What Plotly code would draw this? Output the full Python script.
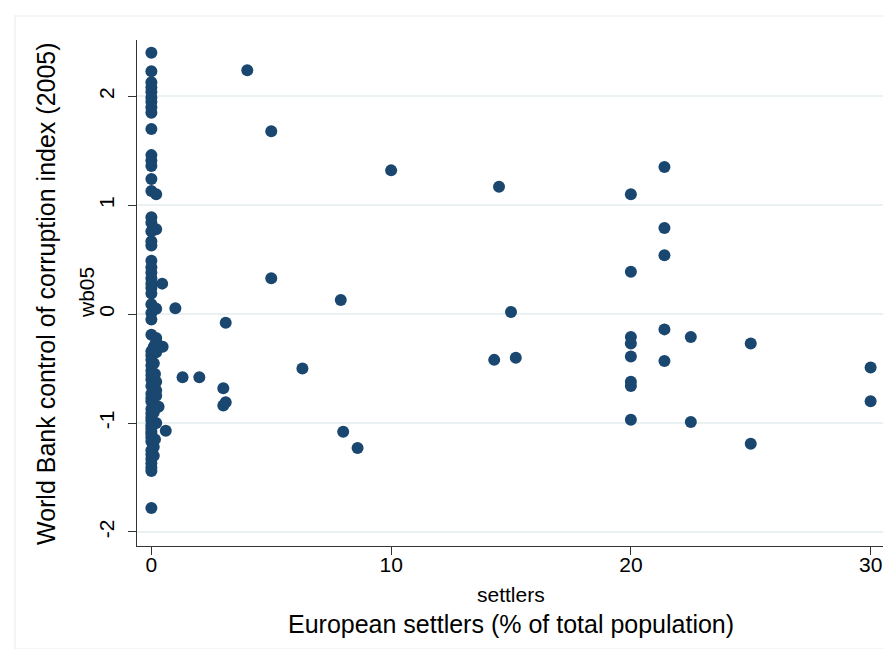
import plotly.graph_objects as go

# European settlers (% of total population) / World Bank control of corruption index (2005)
# -- countries with (almost) no settlers, positive index
settlers_zero_pos = [0, 0, 0, 0, 0, 0, 0, 0, 0, 0,
                     0, 0, 0, 0, 0, 0.2,
                     0, 0, 0.2, 0,
                     0, 0, 0, 0, 0,
                     0, 0, 0, 0, 0,
                     0.2, 0.1, 0, 0]
wb05_zero_pos = [2.40, 2.23, 2.13, 2.08, 2.04, 1.99, 1.95, 1.90, 1.85, 1.70,
                 1.46, 1.41, 1.36, 1.24, 1.13, 1.10,
                 0.89, 0.84, 0.78, 0.76,
                 0.67, 0.63, 0.49, 0.43, 0.38,
                 0.33, 0.28, 0.24, 0.19, 0.09,
                 0.05, 0.06, 0.01, -0.05]

# -- countries with (almost) no settlers, negative index
settlers_zero_neg = [0.2, 0.1, 0.2, 0, 0, 0,
                     0, 0, 0, 0, 0, 0.2,
                     0, 0.2, 0, 0, 0, 0.3,
                     0, 0, 0, 0.2, 0, 0,
                     0, 0, 0.1, 0, 0, 0,
                     0, 0, 0, 0, 0, 0,
                     0, 0.1, 0.15, 0.1, 0.2, 0.1,
                     0.15, 0.1, 0.2]
wb05_zero_neg = [-0.22, -0.30, -0.25, -0.19, -0.34, -0.38,
                 -0.42, -0.47, -0.52, -0.56, -0.60, -0.62,
                 -0.66, -0.70, -0.73, -0.77, -0.80, -0.85,
                 -0.87, -0.91, -0.95, -1.00, -0.98, -1.02,
                 -1.05, -1.08, -1.22, -1.10, -1.13, -1.17,
                 -1.25, -1.29, -1.33, -1.41, -1.44, -1.78,
                 -1.37, -0.45, -0.55, -0.68, -0.75, -0.90,
                 -1.15, -1.30, -0.35]

# -- countries with settlers
settlers_other = [4, 5, 10, 14.5, 20, 21.4,
                  21.4, 21.4, 20, 5, 0.45, 1,
                  7.9, 15, 3.1, 0.47, 21.4, 22.5,
                  20, 20, 25, 20, 14.3, 15.2,
                  21.4, 6.3, 30, 1.3, 2, 3,
                  20, 20, 3.1, 3, 30, 20,
                  22.5, 8, 0.6, 8.6, 25]
wb05_other = [2.24, 1.68, 1.32, 1.17, 1.10, 1.35,
              0.79, 0.54, 0.39, 0.33, 0.28, 0.055,
              0.13, 0.02, -0.08, -0.30, -0.14, -0.21,
              -0.21, -0.27, -0.27, -0.39, -0.42, -0.40,
              -0.43, -0.50, -0.49, -0.58, -0.58, -0.68,
              -0.62, -0.66, -0.81, -0.84, -0.80, -0.97,
              -0.99, -1.08, -1.07, -1.23, -1.19]

settlers = settlers_zero_pos + settlers_zero_neg + settlers_other
wb05 = wb05_zero_pos + wb05_zero_neg + wb05_other

x_ticks = [0, 10, 20, 30]
y_ticks = [-2, -1, 0, 1, 2]

FONT = "Liberation Sans, Arial, sans-serif"
NAVY = "#1a476f"

# plot region in pixels (for placing the titles)
L, R, T, B = 129, 877, 32, 538
PW, PH = R - L, B - T

fig = go.Figure()
fig.add_trace(go.Scatter(
    x=settlers, y=wb05, mode="markers",
    marker=dict(color=NAVY, size=12, line=dict(width=0)),
    hoverinfo="x+y", showlegend=False,
))

fig.update_layout(
    width=891, height=649,
    margin=dict(l=L, r=891 - R, t=T, b=649 - B),
    paper_bgcolor="white", plot_bgcolor="white",
    font=dict(family=FONT, color="black"),
    xaxis=dict(
        range=[-0.6, 30.6], tickvals=x_ticks, ticktext=[str(v) for v in x_ticks],
        showgrid=False, zeroline=False, showline=True, linecolor="#333333", linewidth=1,
        ticks="outside", ticklen=8, tickcolor="#333333", tickfont=dict(size=21, family=FONT),
        ticklabelstandoff=-8, fixedrange=True,
    ),
    yaxis=dict(
        range=[-2.129, 2.517], tickvals=y_ticks, ticktext=[str(v) for v in y_ticks],
        showgrid=True, gridcolor="#eaf1f3", gridwidth=1.5, zeroline=False,
        showline=True, linecolor="#333333", linewidth=1,
        ticks="outside", ticklen=8, tickcolor="#333333", tickangle=-90,
        tickfont=dict(size=21, family=FONT), ticklabelstandoff=6, fixedrange=True,
    ),
    shapes=[dict(type="rect", xref="paper", yref="paper",
                 x0=(7 - L) / PW, x1=(889 - L) / PW, y0=(B - 641) / PH, y1=(B - 8) / PH,
                 line=dict(color="#eef2f4", width=1.5), fillcolor="rgba(0,0,0,0)", layer="below")],
    annotations=[
        dict(text="settlers", xref="paper", yref="paper", x=0.5, y=-(586 - B) / PH,
             xanchor="center", yanchor="middle",
             showarrow=False, font=dict(size=21, family=FONT)),
        dict(text="European settlers (% of total population)", xref="paper", yref="paper",
             x=0.5, y=-(616 - B) / PH, xanchor="center", yanchor="middle",
             showarrow=False, font=dict(size=25, family=FONT)),
        dict(text="wb05", xref="paper", yref="paper", x=-(L - 78) / PW, y=(B - 285) / PH,
             xanchor="center", yanchor="middle", textangle=-90,
             showarrow=False, font=dict(size=21, family=FONT)),
        dict(text="World Bank control of corruption index (2005)", xref="paper", yref="paper",
             x=-(L - 38) / PW, y=(B - 286) / PH, xanchor="center", yanchor="middle", textangle=-90,
             showarrow=False, font=dict(size=25, family=FONT)),
    ],
)

fig.write_html("out.html")
